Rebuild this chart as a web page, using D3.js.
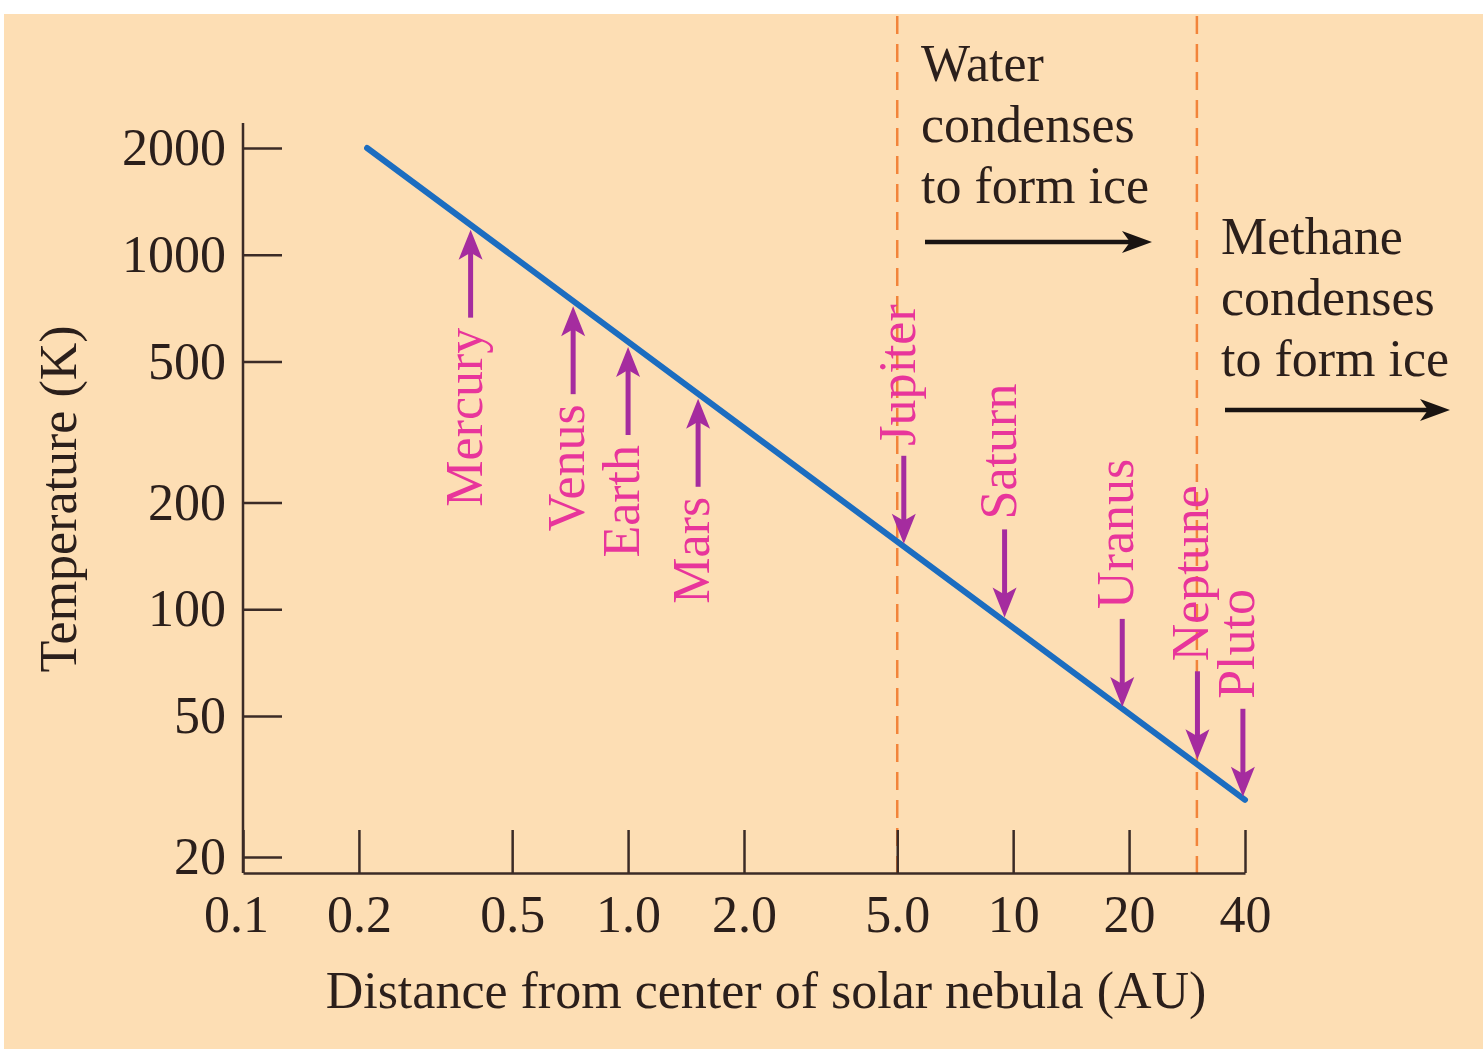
<!DOCTYPE html>
<html>
<head>
<meta charset="utf-8">
<script src="https://cdn.jsdelivr.net/npm/d3@7"></script>
<style>
  html, body { margin: 0; padding: 0; background: #fff; }
  text { font-family: "Liberation Serif", "DejaVu Serif", serif; }
</style>
</head>
<body>
<div id="chart"></div>
<script>
// values
const distTicks = [0.1, 0.2, 0.5, 1, 2, 5, 10, 20, 40];
const distTickLabels = ["0.1", "0.2", "0.5", "1.0", "2.0", "5.0", "10", "20", "40"];
const tempTicks = [20, 50, 100, 200, 500, 1000, 2000];

const lineDist = [0.21, 40];
const lineTemp = [2000, 29];

const planets = ["Mercury", "Venus", "Earth", "Mars", "Jupiter", "Saturn", "Uranus", "Neptune", "Pluto"];
const planetDist = [0.39, 0.72, 1.0, 1.52, 5.2, 9.5, 19.2, 30.1, 39.5];
const planetTemp = [1200, 730, 560, 400, 150, 93, 52, 37, 29];
const planetSide = ["below", "below", "below", "below", "above", "above", "above", "above", "above"];

const iceLines = [5, 30];
const waterText = ["Water", "condenses", "to form ice"];
const methaneText = ["Methane", "condenses", "to form ice"];

const width = 1483, height = 1049;
const fontSize = 52;
const ink = "#2b1f1b";
const axisColor = "#3b2b26";
const pink = "#e8359b";
const purple = "#a52c9f";

const svg = d3.select("#chart")
  .append("svg")
  .attr("width", width)
  .attr("height", height);

svg.append("rect")
  .attr("x", 4).attr("y", 14)
  .attr("width", width - 4).attr("height", height - 14)
  .attr("fill", "#fddeb4");

const x = d3.scaleLog().domain([0.1, 40]).range([243, 1245]);
const y = d3.scaleLog().domain([20, 2000]).range([857, 148]);
const axisY = 873;

// condensation boundaries
svg.selectAll(".ice")
  .data(iceLines)
  .enter()
  .append("line")
  .attr("class", "ice")
  .attr("x1", d => x(d)).attr("x2", d => x(d))
  .attr("y1", 16).attr("y2", axisY)
  .attr("stroke", "#f2843a")
  .attr("stroke-width", 2.5)
  .attr("stroke-dasharray", "18,10");

// y axis
const gy = svg.append("g")
  .attr("transform", `translate(${x(0.1)},0)`)
  .call(d3.axisLeft(y).tickValues(tempTicks).tickFormat(d3.format("d")).tickSize(-39).tickPadding(17));
gy.select(".domain").remove();
svg.append("line")
  .attr("x1", x(0.1)).attr("x2", x(0.1))
  .attr("y1", 123).attr("y2", axisY)
  .attr("stroke", axisColor).attr("stroke-width", 2.5);

// x axis
const gx = svg.append("g")
  .attr("transform", `translate(0,${axisY})`)
  .call(d3.axisBottom(x).tickValues(distTicks).tickFormat((d, i) => distTickLabels[i]).tickSize(-43).tickSizeOuter(0).tickPadding(22));

[gx, gy].forEach(g => {
  g.selectAll("line, path").attr("stroke", axisColor).attr("stroke-width", 2.5);
  g.selectAll("text")
    .attr("fill", ink)
    .style("font-size", fontSize + "px")
    .style("font-family", '"Liberation Serif", serif');
});
// first label sits a little left of the corner
gx.selectAll(".tick text").filter(d => d === 0.1).attr("dx", -7);

svg.append("text")
  .attr("x", 766).attr("y", 1008)
  .attr("text-anchor", "middle")
  .attr("fill", ink)
  .style("font-size", fontSize + "px")
  .text("Distance from center of solar nebula (AU)");

svg.append("text")
  .attr("transform", "translate(76,499) rotate(-90)")
  .attr("text-anchor", "middle")
  .attr("fill", ink)
  .style("font-size", fontSize + "px")
  .text("Temperature (K)");

// temperature profile
const lineData = lineDist.map((d, i) => ({ dist: d, temp: lineTemp[i] }));
svg.append("path")
  .datum(lineData)
  .attr("d", d3.line().x(d => x(d.dist)).y(d => y(d.temp)))
  .attr("fill", "none")
  .attr("stroke", "#1c6dc0")
  .attr("stroke-width", 6)
  .attr("stroke-linecap", "round");

// planet arrows and labels
const shaftLen = 88, gap = 10;
const planetData = planets.map((name, i) => {
  const px = x(planetDist[i]);
  const dir = planetSide[i] === "below" ? -1 : 1; // -1: arrow points up
  const tip = y(planetTemp[i]) - dir * 3;
  const tail = tip - dir * shaftLen;
  return { name, px, dir, tip, tail };
});

const arrows = svg.selectAll(".planet")
  .data(planetData)
  .enter()
  .append("g")
  .attr("class", "planet");

arrows.append("line")
  .attr("x1", d => d.px).attr("x2", d => d.px)
  .attr("y1", d => d.tail)
  .attr("y2", d => d.tip - d.dir * 20)
  .attr("stroke", purple)
  .attr("stroke-width", 5);

arrows.append("path")
  .attr("d", d => `M${d.px},${d.tip} L${d.px - 12},${d.tip - d.dir * 30} L${d.px},${d.tip - d.dir * 23} L${d.px + 12},${d.tip - d.dir * 30} Z`)
  .attr("fill", purple);

arrows.append("text")
  .attr("transform", d => `translate(${d.px + 11},${d.tail - d.dir * gap}) rotate(-90)`)
  .attr("text-anchor", d => d.dir < 0 ? "end" : "start")
  .attr("fill", pink)
  .style("font-size", fontSize + "px")
  .text(d => d.name);

// annotations
function note(lines, x0, y0) {
  svg.append("text")
    .attr("fill", ink)
    .style("font-size", fontSize + "px")
    .selectAll("tspan")
    .data(lines)
    .enter()
    .append("tspan")
    .attr("x", x0)
    .attr("y", (d, i) => y0 + i * 61)
    .text(d => d);
}
note(waterText, 921, 81);
note(methaneText, 1221, 254);

function blackArrow(x1, x2, yy) {
  svg.append("line")
    .attr("x1", x1).attr("x2", x2 - 20)
    .attr("y1", yy).attr("y2", yy)
    .attr("stroke", "#1a1412").attr("stroke-width", 4.5);
  svg.append("path")
    .attr("d", `M${x2},${yy} L${x2 - 30},${yy - 11} L${x2 - 22},${yy} L${x2 - 30},${yy + 11} Z`)
    .attr("fill", "#1a1412");
}
blackArrow(925, 1152, 242);
blackArrow(1225, 1450, 410);
</script>
</body>
</html>
